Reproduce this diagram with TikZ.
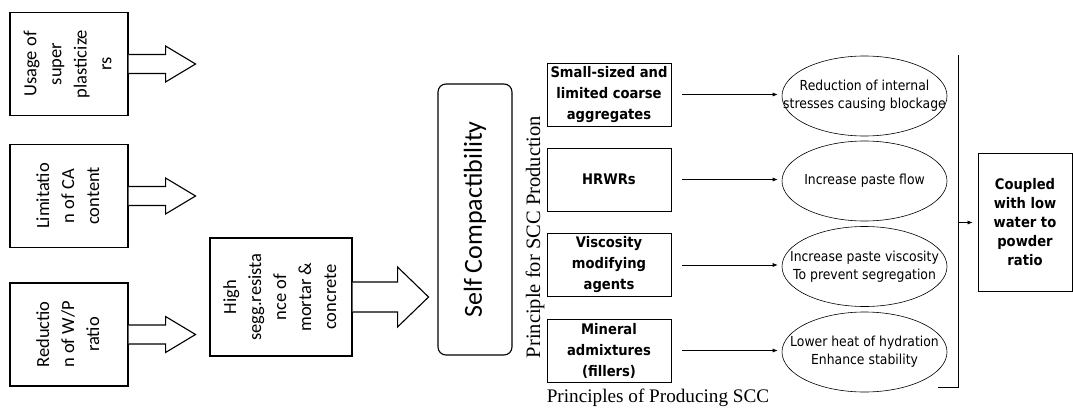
\documentclass[tikz,border=0pt]{standalone}
\usepackage{fontspec}
\setmainfont{Liberation Serif}
\newfontfamily\calfont{Carlito}
\newfontfamily\tahfont[FakeStretch=0.9]{DejaVu Sans}
\usetikzlibrary{arrows.meta,positioning,shapes.geometric,calc}

\newcommand{\efftext}[1]{\makebox[0pt]{\begin{tabular}{@{}c@{}}#1\end{tabular}}}

\begin{document}
\begin{tikzpicture}[x=1pt, y=-1pt,
  leftbox/.style={
    draw, line width=1.1pt, minimum width=118pt, minimum height=103pt,
    inner sep=0pt, font=\calfont\fontsize{18.5}{25}\selectfont
  },
  seggbox/.style={
    draw, line width=1.1pt, minimum width=142pt, minimum height=118pt,
    inner sep=0pt, font=\calfont\fontsize{18.5}{25}\selectfont
  },
  scbox/.style={
    draw, line width=1.1pt, rounded corners=8pt,
    minimum width=74pt, minimum height=271pt,
    inner sep=0pt, font=\calfont\fontsize{26}{30}\selectfont
  },
  princbox/.style={
    draw, line width=0.9pt, minimum width=124pt, minimum height=63pt,
    inner sep=0pt, align=center, font=\tahfont\bfseries\fontsize{14.6}{21}\selectfont
  },
  effell/.style={
    draw, ellipse, line width=0.6pt, minimum width=165pt, minimum height=80pt,
    inner sep=0pt, font=\tahfont\fontsize{13.8}{18}\selectfont
  },
  resbox/.style={
    draw, line width=0.8pt, minimum width=94pt, minimum height=138pt,
    inner sep=0pt, align=center, font=\tahfont\bfseries\fontsize{14.6}{19}\selectfont
  },
  hollow/.style={draw, line width=1.1pt, fill=white, line join=miter},
  thinarrow/.style={-{Latex[length=5pt, width=4pt]}, line width=0.6pt}
]
\useasboundingbox (0,0) rectangle (1073,409);

% left column of causes
\node[leftbox] (u1) at (69,64) {\rotatebox{90}{\begin{tabular}{@{}c@{}}Usage of\\super\\plasticize\\rs\end{tabular}}};
\node[leftbox] (u2) at (69,196) {\rotatebox{90}{\begin{tabular}{@{}c@{}}Limitatio\\n of CA\\content\end{tabular}}};
\node[leftbox] (u3) at (69,334.5) {\rotatebox{90}{\begin{tabular}{@{}c@{}}Reductio\\n of W/P\\ratio\end{tabular}}};

\foreach \n in {u1,u2,u3}
  \draw[hollow] ($(\n.east)+(0,-9.5)$) -- ++(37,0) -- ++(0,-8.5) -- ++(30,18)
    -- ++(-30,18) -- ++(0,-8.5) -- ++(-37,0);

\node[seggbox] (hs) at (281,297) {\rotatebox{90}{\begin{tabular}{@{}c@{}}High\\segg.resista\\nce of\\mortar \&\\concrete\end{tabular}}};
\draw[hollow] ($(hs.east)+(0,-15)$) -- ++(45,0) -- ++(0,-15) -- ++(31,30)
  -- ++(-31,30) -- ++(0,-15) -- ++(-45,0);

\node[scbox] (sc) at (475,219.5) {\rotatebox{90}{Self Compactibility}};
\node[font=\fontsize{20.5}{24}\selectfont, rotate=90, inner sep=0pt] (prin) at (535,237) {Principle for SCC Production};

% principles and their effects
\node[princbox] (p1) at (609,94.5) {Small-sized and\\limited coarse\\aggregates};
\node[princbox] (p2) at (609,179.5) {HRWRs};
\node[princbox] (p3) at (609,265) {Viscosity\\modifying\\agents};
\node[princbox] (p4) at (609,350.5) {Mineral\\admixtures\\(fillers)};

\node[effell] (e1) at (864.5,96) {\efftext{Reduction of internal\\stresses causing blockage}};
\node[effell] (e2) at (864.5,181) {\efftext{Increase paste flow}};
\node[effell] (e3) at (864.5,266.5) {\efftext{Increase paste viscosity\\To prevent segregation}};
\node[effell] (e4) at (864.5,352) {\efftext{Lower heat of hydration\\Enhance stability}};

\foreach \i in {1,...,4}
  \draw[thinarrow, shorten <=11pt, shorten >=4pt] (p\i.east) -- (p\i.east -| e\i.west);

\node[font=\fontsize{19.2}{22}\selectfont, inner sep=0pt] (cap) at (658,398) {Principles of Producing SCC};

% collecting line and result
\node[resbox] (res) at (1025,222.5) {Coupled\\with low\\water to\\powder\\ratio};
\coordinate (bustop) at (958,55);
\coordinate (busbot) at (958,387);
\coordinate (stub) at (938,387);
\draw[line width=0.8pt] (bustop) -- (busbot) -- (stub);
\draw[thinarrow, shorten >=5pt] (bustop |- res.west) -- (res.west);
\end{tikzpicture}
\end{document}
